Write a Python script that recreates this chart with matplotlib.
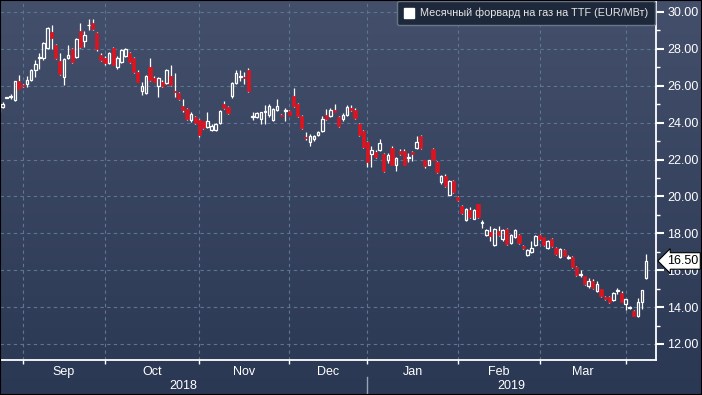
import numpy as np
import pandas as pd
import matplotlib
matplotlib.use('Agg')
import matplotlib.pyplot as plt
import matplotlib.transforms as mtransforms
from matplotlib.patches import Rectangle
from matplotlib.lines import Line2D
from matplotlib.colors import LinearSegmentedColormap

plt.rcParams['font.family'] = ['Liberation Sans', 'DejaVu Sans']

# trading days (ICE Endex holidays removed)
holidays = ['2018-12-25', '2018-12-26', '2019-01-01']
dates = pd.bdate_range('2018-08-24', '2019-04-08')
dates = dates[~dates.isin(pd.to_datetime(holidays))]

opens = [24.60, 24.86, 25.36, 25.38, 25.24, 26.27, 26.04, 26.10, 26.30, 26.83,
         27.53, 27.48, 28.04, 28.90, 28.20, 27.35, 26.47, 27.50, 27.98, 27.58,
         28.97, 28.40, 29.28, 29.39, 28.85, 27.68, 27.50, 27.23, 28.04, 27.04,
         27.31, 27.62, 27.80, 27.50, 26.77, 25.74, 25.60, 27.00, 26.43, 25.96,
         26.18, 26.15, 26.54, 25.72, 25.60, 24.92, 24.74, 24.12, 24.30, 24.16,
         24.07, 23.75, 23.62, 23.62, 24.00, 25.00, 24.86, 25.42, 26.15, 26.48,
         26.47, 26.86, 24.33, 24.30, 24.20, 24.58, 24.40, 24.15, 24.70, 24.42,
         24.63, 24.65, 25.46, 25.00, 24.38, 23.22, 22.93, 23.10, 23.33, 23.53,
         24.43, 24.34, 24.70, 24.30, 24.20, 24.40, 24.80, 24.70, 23.95, 23.53,
         22.97, 22.30, 22.40, 22.50, 22.30, 21.95, 22.65, 21.73, 22.48, 22.48,
         22.08, 22.40, 22.60, 23.30, 21.95, 21.73, 22.55, 21.84, 20.77, 21.13,
         20.10, 20.83, 19.95, 19.50, 18.70, 19.26, 18.80, 19.57, 18.55, 17.90,
         18.05, 17.35, 18.13, 17.68, 18.26, 17.46, 17.80, 17.90, 17.30, 16.80,
         17.00, 17.35, 17.90, 17.78, 17.20, 17.70, 17.20, 16.70, 17.10, 16.68,
         16.70, 16.16, 15.76, 15.68, 15.12, 15.42, 14.88, 14.97, 14.54, 14.54,
         14.40, 14.86, 14.76, 14.16, 13.97, 13.80, 13.50, 14.25, 15.55]
highs = [25.00, 25.10, 25.38, 25.55, 26.28, 26.60, 26.10, 26.55, 26.90, 27.40,
         27.80, 28.35, 29.20, 29.30, 28.25, 27.80, 27.50, 28.20, 28.05, 28.60,
         29.40, 28.95, 29.63, 29.60, 28.90, 27.75, 27.60, 27.85, 28.10, 27.60,
         28.00, 28.05, 27.85, 27.55, 26.85, 26.20, 26.60, 27.50, 26.55, 26.50,
         26.30, 26.90, 27.10, 26.70, 25.65, 25.30, 24.80, 24.55, 24.35, 24.20,
         24.10, 24.60, 23.95, 24.00, 24.70, 25.20, 24.90, 26.20, 26.85, 26.85,
         26.75, 26.95, 24.55, 24.60, 24.60, 24.95, 25.00, 24.80, 25.30, 24.45,
         24.80, 24.70, 25.90, 25.05, 24.40, 23.50, 23.40, 23.35, 23.55, 24.35,
         24.75, 24.80, 25.00, 24.35, 24.50, 24.95, 24.95, 24.80, 24.00, 23.60,
         23.00, 22.75, 22.50, 23.10, 22.35, 22.35, 22.75, 22.15, 22.55, 22.55,
         22.35, 22.45, 23.30, 23.35, 22.00, 22.00, 22.60, 21.90, 21.15, 21.20,
         20.90, 20.90, 20.00, 19.55, 19.35, 19.45, 19.30, 19.60, 18.70, 18.25,
         18.40, 18.30, 18.40, 18.25, 18.30, 17.95, 18.25, 17.95, 17.35, 17.15,
         17.60, 17.90, 17.95, 17.80, 17.65, 17.75, 17.25, 17.20, 17.15, 16.85,
         16.75, 16.20, 16.00, 15.70, 15.55, 15.50, 15.40, 15.00, 14.60, 14.58,
         14.80, 15.05, 14.85, 14.45, 14.05, 13.85, 14.50, 14.95, 16.90]
lows = [24.50, 24.80, 25.34, 25.30, 25.18, 25.80, 25.95, 25.95, 26.25, 26.50,
        26.90, 27.40, 28.00, 28.00, 27.45, 26.60, 26.05, 27.45, 27.25, 27.50,
        28.05, 28.10, 29.00, 29.00, 27.90, 27.35, 27.15, 27.20, 27.10, 26.90,
        27.25, 27.55, 27.25, 26.70, 26.20, 25.50, 25.55, 26.25, 26.20, 25.40,
        25.95, 26.10, 26.00, 25.40, 25.25, 24.60, 24.15, 24.05, 23.95, 23.20,
        23.65, 23.70, 23.55, 23.55, 23.95, 24.75, 24.45, 25.35, 26.10, 26.25,
        26.10, 25.65, 24.15, 24.25, 23.90, 23.90, 24.30, 24.10, 24.65, 24.35,
        24.10, 24.40, 24.85, 24.30, 23.65, 23.05, 22.75, 23.00, 23.30, 23.50,
        24.15, 24.30, 24.55, 23.75, 24.10, 24.35, 24.65, 24.20, 23.30, 22.60,
        21.60, 21.60, 22.10, 22.45, 21.35, 21.80, 21.70, 21.40, 22.25, 21.70,
        21.85, 21.90, 22.55, 22.55, 21.55, 21.70, 21.95, 21.25, 20.70, 20.50,
        20.05, 20.20, 19.75, 19.05, 18.65, 18.85, 18.75, 18.85, 18.30, 17.85,
        17.60, 17.30, 17.85, 17.60, 17.35, 17.40, 17.75, 17.40, 17.15, 16.75,
        16.95, 17.30, 17.65, 17.30, 17.15, 17.25, 16.85, 16.65, 16.75, 16.60,
        16.10, 15.70, 15.65, 15.20, 15.05, 15.00, 14.80, 14.55, 14.40, 14.22,
        14.35, 14.70, 14.25, 13.85, 13.90, 13.50, 13.45, 13.90, 15.50]
closes = [24.88, 25.03, 25.37, 25.42, 26.24, 25.84, 25.98, 26.33, 26.86, 27.17,
          27.57, 28.30, 29.12, 28.58, 27.50, 26.65, 27.44, 27.68, 27.31, 28.52,
          28.09, 28.76, 29.32, 29.06, 27.98, 27.40, 27.23, 27.80, 27.14, 27.50,
          27.95, 27.98, 27.31, 26.77, 26.23, 26.00, 26.54, 26.29, 26.23, 26.43,
          26.00, 26.86, 26.05, 25.68, 25.28, 24.66, 24.20, 24.47, 23.98, 23.35,
          23.71, 24.10, 23.84, 23.93, 24.65, 24.80, 24.54, 26.15, 26.70, 26.52,
          26.43, 25.70, 24.36, 24.50, 24.55, 24.62, 24.90, 24.75, 24.90, 24.38,
          24.67, 24.43, 24.88, 24.35, 23.70, 23.18, 23.30, 23.30, 23.47, 24.20,
          24.20, 24.70, 24.60, 23.80, 24.40, 24.83, 24.70, 24.27, 23.35, 22.70,
          21.84, 22.50, 22.16, 22.90, 21.40, 22.27, 21.73, 22.10, 22.32, 21.73,
          22.12, 22.30, 22.97, 22.60, 21.64, 21.95, 22.00, 21.30, 21.10, 20.56,
          20.83, 20.23, 19.80, 19.10, 19.30, 18.90, 19.26, 18.90, 18.59, 18.20,
          17.85, 18.26, 17.90, 18.18, 17.40, 17.90, 18.20, 17.46, 17.20, 17.10,
          17.20, 17.84, 17.70, 17.35, 17.60, 17.30, 16.90, 17.13, 16.77, 16.72,
          16.16, 15.75, 15.80, 15.24, 15.42, 15.06, 15.24, 14.60, 14.43, 14.27,
          14.76, 14.90, 14.30, 14.43, 14.00, 13.53, 14.27, 14.93, 16.50]

legend_label = 'Месячный форвард на газ на TTF (EUR/МВт)'

UP = 'white'
DOWN = '#dc1420'
GRID = '#5f7594'


def draw_candles(ax):
    for i, (o, h, l, c) in enumerate(zip(opens, highs, lows, closes)):
        top, bot = max(o, c), min(o, c)
        ax.vlines(i, top, h, color='white', lw=0.9, zorder=3)
        ax.vlines(i, l, bot, color='white', lw=0.9, zorder=3)
        if c >= o:
            w = 0.62
            body = Rectangle((i - w / 2, bot), w, max(top - bot, 0.01),
                             fc='none', ec=UP, lw=0.9, zorder=4)
        else:
            w = 0.78
            body = Rectangle((i - w / 2, bot), w, max(top - bot, 0.03),
                             fc=DOWN, ec=DOWN, lw=0.5, zorder=4)
        ax.add_patch(body)


fig = plt.figure(figsize=(7.02, 3.95), dpi=100)

# background gradient
bg = fig.add_axes([0, 0, 1, 1], zorder=-10)
cmap = LinearSegmentedColormap.from_list('bg', ['#434f6b', '#2b3854'])
bg.imshow(np.linspace(0, 1, 256).reshape(-1, 1), aspect='auto', cmap=cmap,
          extent=[0, 1, 0, 1], origin='upper')
bg.axis('off')

ax = fig.add_axes([0, 35 / 395, 656 / 702, 360 / 395])
ax.patch.set_alpha(0)
draw_candles(ax)

ax.set_xlim(0.39, 160.4)
ax.set_ylim(11.13, 30.65)

for side in ['left', 'top']:
    ax.spines[side].set_visible(False)
for side in ['right', 'bottom']:
    ax.spines[side].set_color('white')
    ax.spines[side].set_linewidth(1.3)

# y axis on the right
ax.yaxis.tick_right()
ax.set_yticks(np.arange(12, 31, 2))
ax.set_yticks(np.arange(13, 31, 2), minor=True)
ax.yaxis.set_major_formatter(matplotlib.ticker.FormatStrFormatter('%.2f'))
ax.tick_params(axis='y', which='major', colors='white', length=6, width=1.5,
               labelsize=9, pad=2)
ax.tick_params(axis='y', which='minor', colors='white', length=3, width=1)

# months: ticks at first trading day, labels in between
idx = np.arange(len(dates))
starts = [i for i in idx[1:] if dates[i].month != dates[i - 1].month]
mids = [(a + b) / 2 for a, b in zip(starts[:-1], starts[1:])]
names = [dates[s].strftime('%b') for s in starts[:-1]]
ax.set_xticks(starts)
ax.set_xticklabels([])
ax.set_xticks(mids, minor=True)
ax.set_xticklabels(names, minor=True)
ax.tick_params(axis='x', which='major', colors='white', length=3, width=1)
ax.tick_params(axis='x', which='minor', length=0, pad=4, labelcolor='white',
               labelsize=9)

ax.grid(True, which='major', color=GRID, ls=(0, (3, 3)), lw=0.8)

# years
trans = mtransforms.blended_transform_factory(ax.transData, ax.transAxes)
split = [i for i in idx[1:] if dates[i].year != dates[i - 1].year][0]
lo, hi = ax.get_xlim()
ax.text((lo + split) / 2, -0.072, str(dates[0].year), transform=trans,
        ha='center', va='center', color='white', fontsize=9)
ax.text((split + hi) / 2, -0.072, str(dates[-1].year), transform=trans,
        ha='center', va='center', color='white', fontsize=9)
ax.plot([split, split], [-0.047, -0.11], transform=trans, clip_on=False,
        color='#9aa3b3', lw=1)

# legend
handle = Line2D([], [], marker='s', color='white', ls='none', markersize=7.5)
leg = ax.legend([handle], [legend_label], loc='upper right',
                bbox_to_anchor=(1.0, 1.0), borderaxespad=0.12, fontsize=7.8,
                fancybox=True, framealpha=1, handletextpad=0.5,
                handlelength=1.0, borderpad=0.6)
leg.get_frame().set_facecolor('#1d283b')
leg.get_frame().set_edgecolor('#6a7588')
for t in leg.get_texts():
    t.set_color('#e6e6e6')

# last price tag
ytrans = mtransforms.blended_transform_factory(ax.transAxes, ax.transData)
ax.annotate('%.2f' % closes[-1], xy=(1, closes[-1]), xycoords=ytrans,
            xytext=(19, 0), textcoords='offset points', ha='center',
            va='center', fontsize=9, color='black', zorder=10,
            bbox=dict(boxstyle='larrow,pad=0.18', fc='white', ec='black',
                      lw=0.8), annotation_clip=False)

fig.patches.append(Rectangle((0, 0), 1, 1, transform=fig.transFigure,
                             fill=False, ec='black', lw=1.5))

fig.savefig('out.png', dpi=100)
